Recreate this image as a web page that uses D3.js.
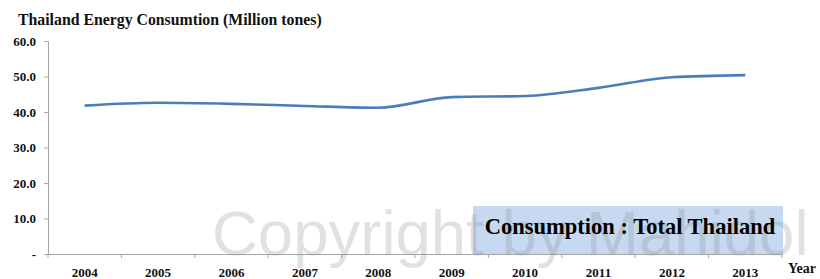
<!DOCTYPE html>
<html><head><meta charset="utf-8">
<script src="https://cdn.jsdelivr.net/npm/d3@7"></script>
<style>body{margin:0;background:#fff}svg{display:block}</style>
</head><body>
<svg id="c" width="820" height="279"></svg>
<script>
const years = ["2004","2005","2006","2007","2008","2009","2010","2011","2012","2013"];
const consumption = [41.8, 42.6, 42.3, 41.7, 41.2, 44.2, 44.5, 46.8, 49.8, 50.4];
const yTicks = [0, 10, 20, 30, 40, 50, 60];
const title = "Thailand Energy Consumtion (Million tones)";
const boxLabel = "Consumption : Total Thailand";
const watermark = "Copyright by Mahidol";
const xAxisTitle = "Year";

const svg = d3.select("#c");
const mLeft = 48, mRight = 782, mTop = 41, mBottom = 254;
const x = d3.scaleBand().domain(years).range([mLeft, mRight]);
const y = d3.scaleLinear().domain([0, 60]).range([mBottom, mTop]);
const serif = "'Liberation Serif','Times New Roman',serif";

svg.append("text").attr("x", 18).attr("y", 25)
  .attr("font-family", serif).attr("font-weight", "bold").attr("font-size", 15.8)
  .attr("fill", "#111").text(title);

// y axis
const ya = svg.append("g").attr("transform", `translate(${mLeft},0)`)
  .call(d3.axisLeft(y).tickValues(yTicks).tickSize(4).tickPadding(8)
    .tickFormat(d => d === 0 ? "-" : d3.format(".1f")(d)));
ya.selectAll("path,line").attr("stroke", "#a6a6a6");
ya.selectAll("text").attr("font-family", serif).attr("font-weight", "bold")
  .attr("font-size", 13).attr("fill", "#111");

// box
svg.append("rect").attr("x", 473).attr("y", 206).attr("width", 310).attr("height", mBottom - 206)
  .attr("fill", "#c6d9f1");

// x axis
const xa = svg.append("g").attr("transform", `translate(0,${mBottom})`)
  .call(d3.axisBottom(x).tickSize(0).tickPadding(14));
xa.select("path").attr("stroke", "#a6a6a6");
xa.selectAll("text").attr("font-family", serif).attr("font-weight", "bold")
  .attr("font-size", 13).attr("fill", "#111");
const bounds = years.map(d => x(d)).concat([mRight]);
xa.selectAll("line.b").data(bounds).enter().append("line").attr("class", "b")
  .attr("x1", d => d).attr("x2", d => d).attr("y1", 0).attr("y2", 4).attr("stroke", "#a6a6a6");

svg.append("text").attr("x", 788).attr("y", 273)
  .attr("font-family", serif).attr("font-weight", "bold").attr("font-size", 14)
  .attr("fill", "#111").text(xAxisTitle);

// line
const line = d3.line().x((d, i) => x(years[i]) + x.bandwidth() / 2).y(d => y(d))
  .curve(d3.curveMonotoneX);
svg.append("path").datum(consumption).attr("d", line)
  .attr("fill", "none").attr("stroke", "#4a7ebb").attr("stroke-width", 2.6);

// watermark
svg.append("text").attr("x", 212).attr("y", 255)
  .attr("font-family", "'Liberation Sans',Arial,sans-serif").attr("font-size", 63.5)
  .attr("fill", "#8c8c8c").attr("fill-opacity", 0.26).text(watermark);

svg.append("text").attr("x", 630).attr("y", 234).attr("text-anchor", "middle")
  .attr("font-family", serif).attr("font-weight", "bold").attr("font-size", 22.5)
  .attr("fill", "#000").text(boxLabel);
</script>
</body></html>
